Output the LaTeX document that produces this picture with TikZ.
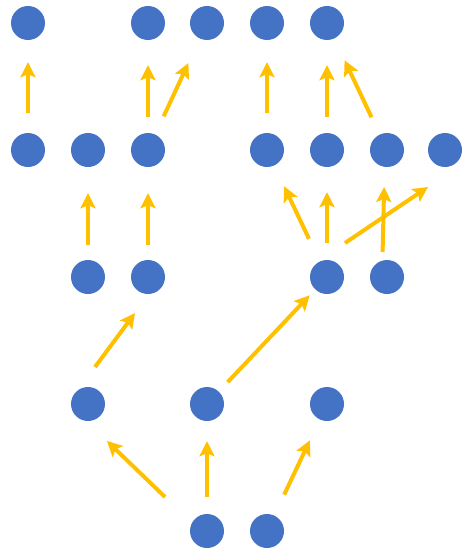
\documentclass[tikz,border=0pt]{standalone}
\usetikzlibrary{arrows.meta}
\definecolor{dotblue}{HTML}{4472C4}
\definecolor{arrowgold}{HTML}{FFC000}

\begin{document}
\begin{tikzpicture}[x=1pt,y=-1pt,
    dot/.style={circle,fill=dotblue,minimum size=34pt,inner sep=0pt},
    arr/.style={draw=arrowgold,line width=4pt,
        -{Stealth[length=15pt,width=15pt,inset=3pt]},
        shorten <=17pt,shorten >=24pt}]
    \useasboundingbox (0,0) rectangle (461,549);

    % top row
    \node[dot] (a1) at (28,23)  {};
    \node[dot] (a2) at (148,23) {};
    \node[dot] (a3) at (207,23) {};
    \node[dot] (a4) at (267,23) {};
    \node[dot] (a5) at (327,23) {};

    % second row
    \node[dot] (b1) at (28,150)  {};
    \node[dot] (b2) at (88,150)  {};
    \node[dot] (b3) at (148,150) {};
    \node[dot] (b4) at (267,150) {};
    \node[dot] (b5) at (327,150) {};
    \node[dot] (b6) at (387,150) {};
    \node[dot] (b7) at (445,150) {};

    % third row
    \node[dot] (c1) at (88,277)  {};
    \node[dot] (c2) at (148,277) {};
    \node[dot] (c3) at (327,277) {};
    \node[dot] (c4) at (387,277) {};

    % fourth row
    \node[dot] (d1) at (88,404)  {};
    \node[dot] (d2) at (207,404) {};
    \node[dot] (d3) at (327,404) {};

    % bottom row
    \node[dot] (e1) at (207,531) {};
    \node[dot] (e2) at (267,531) {};

    % Now draw the arrows:
    \draw [arr, shorten <=20pt, shorten >=22pt] (b1) -- (a1);
    \draw [arr, shorten <=16pt, shorten >=25pt] (b3) -- (a2);
    \draw [arr, shorten <=20pt, shorten >=27pt] (b3) -- (a3);
    \draw [arr, shorten <=20pt, shorten >=22pt] (b4) -- (a4);
    \draw [arr, shorten <=16pt, shorten >=25pt] (b5) -- (a5);
    \draw [arr, shorten <=19pt, shorten >=24pt] (b6) -- (a5);

    \draw [arr, shorten <=15pt, shorten >=26pt] (c1) -- (b2);
    \draw [arr, shorten <=15pt, shorten >=26pt] (c2) -- (b3);
    \draw [arr, shorten <=25pt, shorten >=23pt] (c3) -- (b4);
    \draw [arr, shorten <=17pt, shorten >=25pt] (c3) -- (b5);
    \draw [arr, shorten <=25pt, shorten >=37pt] ([xshift=-5pt]c4.center) -- ([xshift=-2pt]b6.center);
    \draw [arr, shorten <=0pt,  shorten >=0pt]  ([shift={(18,-34)}]c3.center) -- ([shift={(-17,37)}]b7.center);

    \draw [arr, shorten <=0pt,  shorten >=0pt]  ([shift={(7,-37)}]d1.center) -- ([shift={(-13,36)}]c2.center);
    \draw [arr, shorten <=13pt, shorten >=8pt]  (d2) -- (c3);

    \draw [arr, shorten <=0pt,  shorten >=0pt]  ([shift={(-42,-34)}]e1.center) -- ([shift={(19,37)}]d1.center);
    \draw [arr, shorten <=17pt, shorten >=20pt] (e1) -- (d2);
    \draw [arr, shorten <=23pt, shorten >=23pt] (e2) -- (d3);
\end{tikzpicture}
\end{document}
